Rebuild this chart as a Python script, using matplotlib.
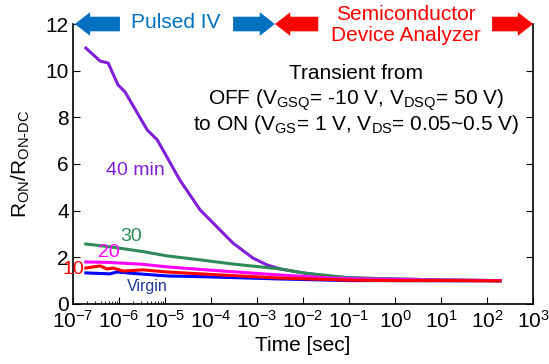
import numpy as np
import matplotlib.pyplot as plt
from matplotlib.ticker import FixedLocator, NullFormatter

plt.rcParams['font.family'] = ['Liberation Sans', 'DejaVu Sans']
plt.rcParams['mathtext.fontset'] = 'custom'
plt.rcParams['mathtext.rm'] = 'Liberation Sans'
plt.rcParams['mathtext.it'] = 'Liberation Sans'
plt.rcParams['mathtext.default'] = 'regular'

# values (time in sec, R_ON/R_ON-DC)
t_40 = [1.9e-7, 3.9e-7, 5.8e-7, 9.5e-7, 1.35e-6, 4.1e-6, 6.8e-6, 2.1e-5, 5.8e-5,
        1.35e-4, 3.0e-4, 8.1e-4, 1.66e-3, 3.2e-3, 1e-2, 3.2e-2, 0.1, 1.0, 10.0, 190.0]
r_40 = [10.97, 10.41, 10.33, 9.39, 9.09, 7.46, 7.03, 5.31, 4.03,
        3.30, 2.61, 1.97, 1.67, 1.50, 1.33, 1.20, 1.12, 1.07, 1.03, 1.00]

t_30 = [1.9e-7, 6.3e-7, 3.2e-6, 1.1e-5, 5.8e-5, 3.0e-4, 3.2e-3, 1e-2, 0.1, 1.0, 10.0, 190.0]
r_30 = [2.57, 2.45, 2.25, 2.06, 1.89, 1.71, 1.50, 1.33, 1.12, 1.07, 1.03, 1.00]

t_20 = [1.9e-7, 6.3e-7, 3.2e-6, 1.1e-5, 5.8e-5, 3.0e-4, 3.2e-3, 3.2e-2, 0.1, 1.0, 10.0, 190.0]
r_20 = [1.80, 1.78, 1.70, 1.59, 1.48, 1.38, 1.24, 1.12, 1.08, 1.05, 1.02, 1.00]

t_10 = [1.9e-7, 3.9e-7, 5.5e-7, 7.4e-7, 1.23e-6, 3.3e-6, 1.1e-5, 5.8e-5, 3.2e-3, 0.1, 1.0, 10.0, 190.0]
r_10 = [1.54, 1.63, 1.50, 1.54, 1.41, 1.46, 1.37, 1.29, 1.11, 1.02, 1.00, 1.00, 0.99]

t_v = [1.9e-7, 6.3e-7, 9.1e-7, 1.7e-6, 1.1e-5, 5.8e-5, 3.2e-3, 0.1, 1.0, 190.0]
r_v = [1.33, 1.29, 1.37, 1.32, 1.20, 1.17, 1.07, 1.00, 1.00, 0.99]

xticks = [1e-7, 1e-6, 1e-5, 1e-4, 1e-3, 1e-2, 1e-1, 1e0, 1e1, 1e2, 1e3]
yticks = [0, 2, 4, 6, 8, 10, 12]

fig = plt.figure(figsize=(5.49, 3.64), dpi=100)
ax = fig.add_axes([0.133, 0.165, 0.838, 0.769])

lw = 2.2
ax.plot(t_v, r_v, color='#0000ff', lw=lw)
ax.plot(t_40, r_40, color='#7f1fd8', lw=lw)
ax.plot(t_30, r_30, color='#2e8b57', lw=lw)
ax.plot(t_20, r_20, color='#ff00ff', lw=lw)
ax.plot(t_10, r_10, color='#ff0000', lw=lw)

ax.set_xscale('log')
ax.set_xlim(1e-7, 1e3)
ax.set_ylim(0, 12)
ax.set_xticks(xticks)
ax.set_yticks(yticks)
minor = [k * 10.0 ** e for e in (-7, -6) for k in range(2, 10)]
ax.xaxis.set_minor_locator(FixedLocator(minor))
ax.xaxis.set_minor_formatter(NullFormatter())
ax.tick_params(axis='both', which='both', direction='in', labelsize=15, top=False)
ax.tick_params(axis='y', right=True, length=5, pad=3)
ax.tick_params(axis='x', which='major', length=5, pad=4)
ax.tick_params(axis='x', which='minor', length=2.5)
ax.spines['top'].set_visible(False)
for s in ('left', 'bottom', 'right'):
    ax.spines[s].set_linewidth(1.2)

ax.set_xlabel('Time [sec]', fontsize=15, labelpad=3)
ax.set_ylabel(r'R$_{\mathrm{ON}}$/R$_{\mathrm{ON\text{-}DC}}$', fontsize=15, labelpad=10)

# curve labels
ax.text(2.3e-6, 5.74, '40 min', color='#7f1fd8', fontsize=14, ha='center', va='center')
ax.text(1.8e-6, 2.91, '30', color='#2e8b57', fontsize=14, ha='center', va='center')
ax.text(6.0e-7, 2.19, '20', color='#ff00ff', fontsize=14, ha='center', va='center')
ax.text(1.0e-7, 1.46, '10', color='#ff0000', fontsize=14, ha='center', va='center')
ax.text(4.1e-6, 0.73, 'Virgin', color='#1f3a93', fontsize=11.5, ha='center', va='center')

# transient conditions
xc = 10 ** -0.85
ax.text(xc, 9.86, 'Transient from', fontsize=15, ha='center', va='center')
ax.text(xc, 8.74, r'OFF (V$_{GSQ}$= -10 V, V$_{DSQ}$= 50 V)', fontsize=15,
        ha='center', va='center')
ax.text(xc, 7.71, r'to ON (V$_{GS}$= 1 V, V$_{DS}$= 0.05~0.5 V)', fontsize=15,
        ha='center', va='center')

# measurement range arrows along the top
style = 'simple,head_length=11,head_width=17,tail_width=10.5'


def arrow(x_tail, x_tip, color):
    ax.annotate('', xy=(x_tip, 12), xytext=(x_tail, 12), xycoords='data',
                arrowprops=dict(arrowstyle=style, color=color, lw=0,
                                shrinkA=0, shrinkB=0, mutation_scale=1),
                annotation_clip=False)


arrow(10 ** -5.98, 10 ** -6.96, '#0070c0')
arrow(10 ** -3.52, 10 ** -2.61, '#0070c0')
arrow(10 ** -1.67, 10 ** -2.61, '#ff0000')
arrow(10 ** 2.11, 1e3, '#ff0000')

ax.text(10 ** -4.76, 12.08, 'Pulsed IV', color='#0070c0', fontsize=15,
        ha='center', va='center', clip_on=False)
ax.text(10 ** 0.24, 11.95, 'Semiconductor\nDevice Analyzer', color='#ff0000',
        fontsize=15, ha='center', va='center', linespacing=1.12, clip_on=False)

fig.savefig('out.png', dpi=100)
